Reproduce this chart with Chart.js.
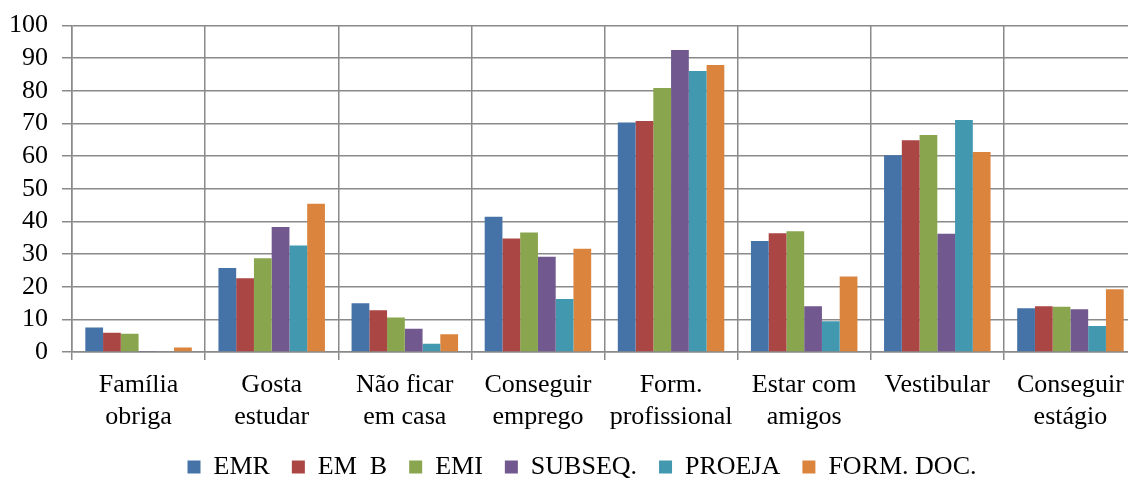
<!DOCTYPE html>
<html lang="pt">
<head>
<meta charset="utf-8">
<title>Motivos</title>
<script src="https://cdn.jsdelivr.net/npm/chart.js@4/dist/chart.umd.min.js"></script>
<style>
  html, body { margin: 0; padding: 0; background: #fff; overflow: hidden; }
  #wrap { position: relative; top: -4px; width: 1164px; height: 494px; }
</style>
</head>
<body>
<div id="wrap"><canvas id="chart"></canvas></div>
<script>
// categories (two-line labels) and series values, in %
const categories = [
  ["Família", "obriga"],
  ["Gosta", "estudar"],
  ["Não ficar", "em casa"],
  ["Conseguir", "emprego"],
  ["Form.", "profissional"],
  ["Estar com", "amigos"],
  ["Vestibular"],
  ["Conseguir", "estágio"],
];

const seriesNames = ["EMR", "EM  B", "EMI", "SUBSEQ.", "PROEJA", "FORM. DOC."];
const seriesColors = ["#4572A7", "#AA4643", "#89A54E", "#71588F", "#4198AF", "#DB843D"];

const emr = [7.5, 25.7, 14.9, 41.4, 70.3, 34.0, 60.3, 13.4];
const emB = [5.9, 22.6, 12.8, 34.8, 70.8, 36.4, 64.9, 14.0];
const emi = [5.6, 28.7, 10.6, 36.6, 80.9, 37.0, 66.5, 13.9];
const subseq = [0.3, 38.3, 7.1, 29.2, 92.5, 14.0, 36.2, 13.1];
const proeja = [0, 32.6, 2.5, 16.2, 86.1, 9.4, 71.1, 8.0];
const formDoc = [1.4, 45.4, 5.4, 31.6, 87.9, 23.1, 61.3, 19.2];

const yTicks = [0, 10, 20, 30, 40, 50, 60, 70, 80, 90, 100];

const serif = "'Liberation Serif', 'Times New Roman', serif";
const gridColor = "#8a8a8a";

const seriesValues = [emr, emB, emi, subseq, proeja, formDoc];

new Chart(document.getElementById("chart"), {
  type: "bar",
  data: {
    labels: categories,
    datasets: seriesNames.map((name, i) => ({
      label: name,
      data: seriesValues[i],
      backgroundColor: seriesColors[i],
      borderWidth: 0,
      categoryPercentage: 0.8,
      barPercentage: 1.0,
    })),
  },
  options: {
    responsive: true,
    maintainAspectRatio: false,
    animation: false,
    layout: {
      padding: { top: 8, right: 0, bottom: 0, left: 0 },
    },
    scales: {
      x: {
        grid: {
          color: gridColor,
          lineWidth: 1.5,
          tickLength: 8,
          offset: true,
        },
        border: { color: gridColor, width: 1.5 },
        ticks: {
          color: "#000",
          maxRotation: 0,
          autoSkip: false,
          padding: 10,
          font: { family: serif, size: 26, lineHeight: 1.2 },
        },
        afterFit: (scale) => {
          scale.height = 80;
        },
      },
      y: {
        min: 0,
        max: 100,
        afterBuildTicks: (scale) => {
          scale.ticks = yTicks.map((v) => ({ value: v }));
        },
        grid: {
          color: gridColor,
          lineWidth: 1.5,
          tickLength: 10,
        },
        border: { color: gridColor, width: 1.5 },
        ticks: {
          color: "#000",
          autoSkip: false,
          padding: 14,
          font: { family: serif, size: 26 },
        },
        afterFit: (scale) => {
          scale.width = 72;
        },
      },
      // empty strip on the right so the legend stays centred on the full width
      spacer: {
        type: "linear",
        position: "right",
        min: 0,
        max: 1,
        grid: { display: false },
        border: { display: false },
        ticks: { display: false },
        afterFit: (scale) => {
          scale.width = 27;
        },
      },
    },
    plugins: {
      legend: {
        position: "bottom",
        labels: {
          color: "#000",
          boxWidth: 13,
          boxHeight: 13,
          padding: 22,
          font: { family: serif, size: 26 },
        },
      },
      tooltip: { enabled: false },
    },
  },
});
</script>
</body>
</html>
